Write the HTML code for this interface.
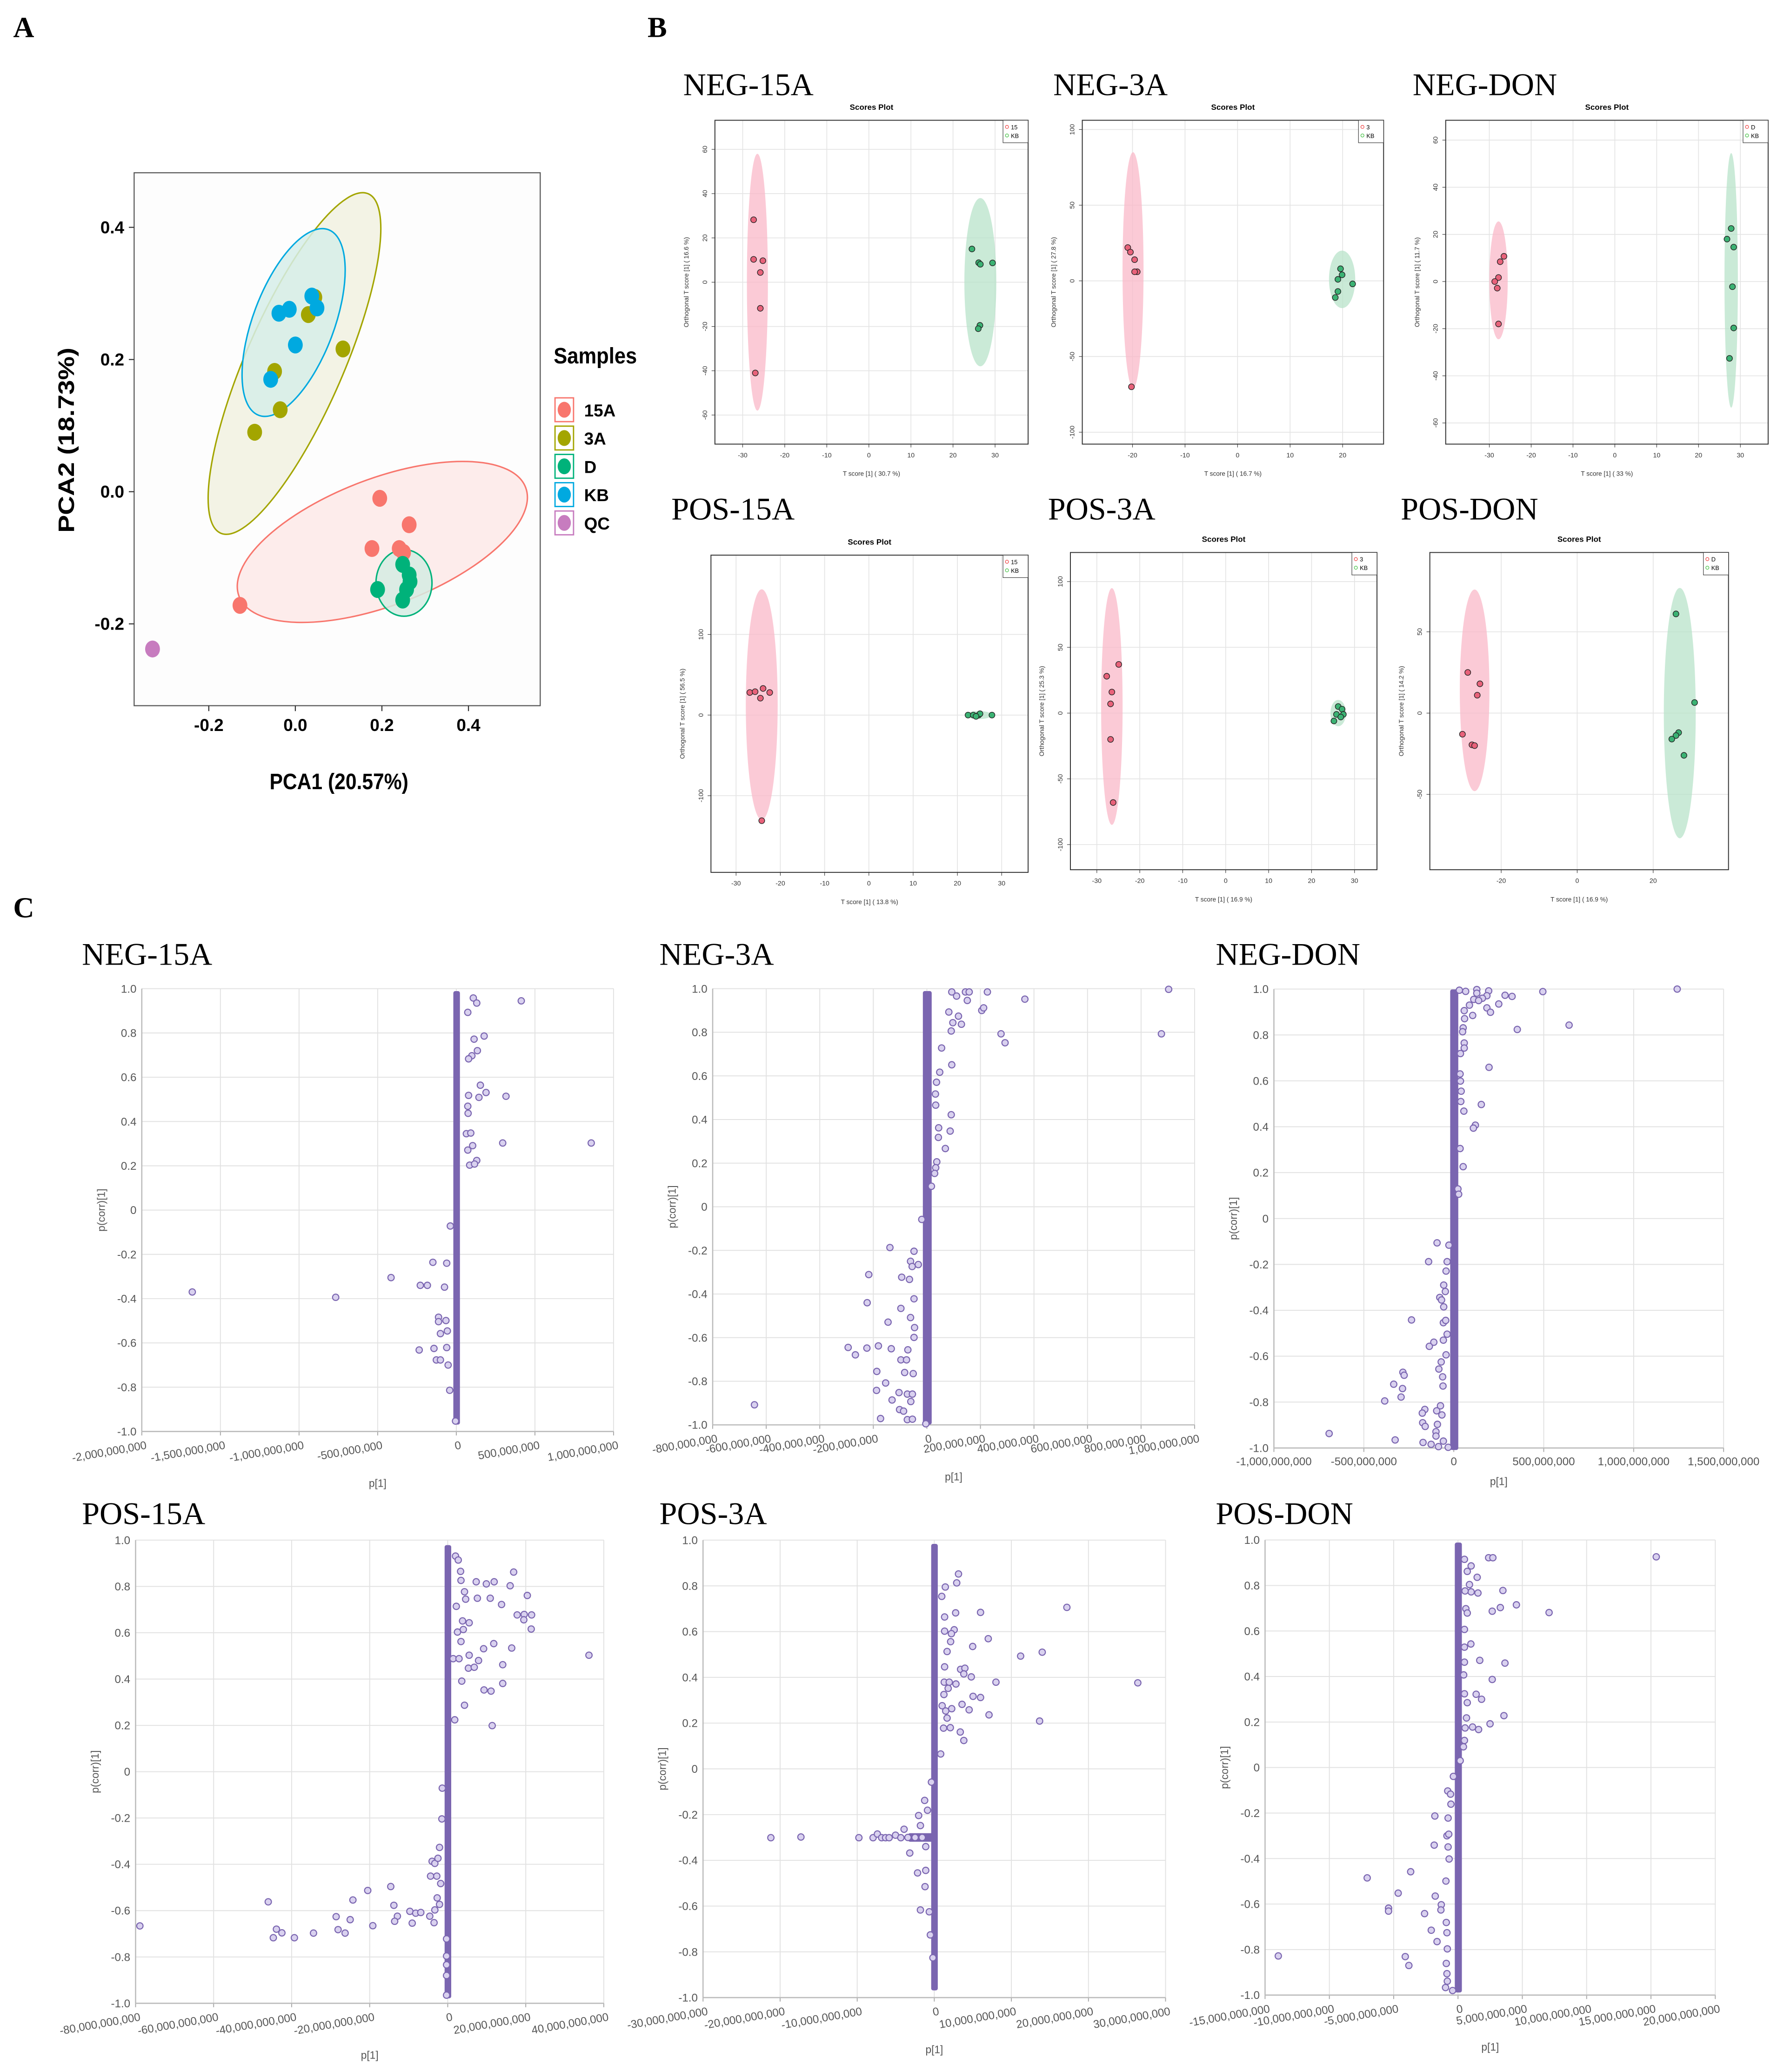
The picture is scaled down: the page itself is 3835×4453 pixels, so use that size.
<!DOCTYPE html>
<html><head><meta charset="utf-8">
<style>
html,body{margin:0;padding:0;background:#fff;}
svg{display:block;}
</style></head>
<body>
<svg id="fig" xmlns="http://www.w3.org/2000/svg" width="3835" height="4453" viewBox="0 0 1350 1567.6" preserveAspectRatio="none">
<rect x="0" y="0" width="1350" height="1567.6" fill="#fff"/>
<g font-family="Liberation Serif, serif" font-weight="bold" font-size="22" fill="#000">
<text x="10" y="28">A</text>
<text x="490" y="28">B</text>
<text x="10" y="694">C</text>
</g>
<g id="panelA"></g>
<g id="panelB"></g>
<g id="panelC"></g>
</svg>
<script>
const NS='http://www.w3.org/2000/svg';
function el(tag,attrs,parent,text){const e=document.createElementNS(NS,tag);for(const k in attrs)e.setAttribute(k,attrs[k]);if(text!==undefined)e.textContent=text;if(parent)parent.appendChild(e);return e;}
function lin(v1,p1,v2,p2){return v=>p1+(v-v1)*(p2-p1)/(v2-v1);}

/* ================= PANEL A DATA ================= */
const aGroups=['15A','3A','D','KB','QC'];
const aColors=['#f8766d','#a3a500','#00b27a','#00a9e0','#c77cbf'];
const a15A_x=[0.195,0.263,0.177,0.24,0.25,-0.128];
const a15A_y=[-0.01,-0.05,-0.086,-0.086,-0.092,-0.172];
const a3A_x=[0.11,-0.094,-0.035,-0.048,0.03,0.045];
const a3A_y=[0.216,0.09,0.124,0.182,0.268,0.294];
const aD_x=[0.19,0.248,0.263,0.265,0.257,0.248];
const aD_y=[-0.148,-0.11,-0.126,-0.136,-0.148,-0.164];
const aKB_x=[-0.038,-0.014,0.038,0.05,0,-0.057];
const aKB_y=[0.27,0.276,0.296,0.278,0.222,0.17];
const aQC_x=[-0.33];
const aQC_y=[-0.238];
const aXticks=[-0.2,0.0,0.2,0.4];
const aYticks=[-0.2,0.0,0.2,0.4];
const aEllCx=[0.201,-0.002,0.251,-0.004];
const aEllCy=[-0.076,0.194,-0.138,0.256];

(function(){
 const g=document.getElementById('panelA');
 const X=lin(0,223.5,0.2,289),Y=lin(0,372,0.2,272);
 el('rect',{x:101.5,y:130.7,width:307.3,height:403.2,fill:'#fdfdfd',stroke:'#555','stroke-width':0.8,},g);
 const ellSty=[{rx:116,ry:48,rot:-20.8,gi:0},{rx:140,ry:37,rot:-66.5,gi:1},{rx:21.2,ry:25.2,rot:0,gi:2},{rx:75,ry:30.7,rot:-69.4,gi:3}];
 const fills=['#fde9e8','#f1f1e0','#d5ece3','#d6ede9'];
 const order=[1,0,3,2];
 order.forEach(i=>{const s=ellSty[i];const cx=X(aEllCx[i]),cy=Y(aEllCy[i]);
  const e=el('ellipse',{cx:cx,cy:cy,rx:s.rx,ry:s.ry,transform:`rotate(${s.rot} ${cx} ${cy})`,fill:fills[i],'fill-opacity':0.85,stroke:aColors[s.gi],'stroke-width':1.1},g);
  
  });
 const sets=[[a15A_x,a15A_y],[a3A_x,a3A_y],[aD_x,aD_y],[aKB_x,aKB_y],[aQC_x,aQC_y]];
 const drawOrder=[1,0,2,3,4];
 drawOrder.forEach(gi=>{const [xs,ys]=sets[gi];xs.forEach((v,k)=>{
  const p=el('ellipse',{cx:X(v),cy:Y(ys[k]),rx:5.6,ry:6.4,fill:aColors[gi]},g);
  
  });});
 aXticks.forEach(t=>{el('line',{x1:X(t),x2:X(t),y1:533.9,y2:538,stroke:'#333','stroke-width':0.8},g);
  const tx=el('text',{x:X(t),y:553,'text-anchor':'middle','font-family':'Liberation Sans, sans-serif','font-weight':'bold','font-size':13,fill:'#000'},g,t.toFixed(1));
  });
 aYticks.forEach(t=>{el('line',{x1:97.5,x2:101.5,y1:Y(t),y2:Y(t),stroke:'#333','stroke-width':0.8},g);
  const tx=el('text',{x:94,y:Y(t)+4.5,'text-anchor':'end','font-family':'Liberation Sans, sans-serif','font-weight':'bold','font-size':13,fill:'#000'},g,t.toFixed(1));
  });
 el('text',{x:204,y:597,textLength:105,lengthAdjust:'spacingAndGlyphs','font-family':'Liberation Sans, sans-serif','font-weight':'bold','font-size':17,},g,'PCA1 (20.57%)');
 el('text',{x:56,y:333,'text-anchor':'middle',textLength:140,lengthAdjust:'spacingAndGlyphs','font-family':'Liberation Sans, sans-serif','font-weight':'bold','font-size':17,transform:'rotate(-90 56 333)',},g,'PCA2 (18.73%)');
 el('text',{x:419,y:275,textLength:63,lengthAdjust:'spacingAndGlyphs','font-family':'Liberation Sans, sans-serif','font-weight':'bold','font-size':17,},g,'Samples');
 aGroups.forEach((n,i)=>{const y0=301+i*21.4;
  const lg=el('g',{},g);
  el('rect',{x:420,y:y0,width:14,height:18,fill:'#fff',stroke:aColors[i],'stroke-width':1},lg);
  el('ellipse',{cx:427,cy:y0+9,rx:5,ry:6,fill:aColors[i]},lg);
  el('text',{x:442,y:y0+14,'font-family':'Liberation Sans, sans-serif','font-weight':'bold','font-size':13},lg,n);});
})();

/* ================= PANEL B DATA ================= */
const bTitles=['NEG-15A','NEG-3A','NEG-DON','POS-15A','POS-3A','POS-DON'];
const bLegendA=['15','3','D','15','3','D'];
const bXpct=['30.7','16.7','33','13.8','16.9','16.9'];
const bYpct=['16.6','27.8','11.7','56.5','25.3','14.2'];
const bRedX=[[-27.4,-27.4,-25.2,-25.8,-25.8,-27],[-20.9,-20.4,-19.6,-19.1,-19.6,-20.2],[-26.5,-27.4,-27.8,-28.7,-28.1,-27.8],[-26.9,-25.7,-23.9,-22.4,-24.5,-24.2],[-24.9,-27.7,-26.5,-26.8,-26.8,-26.2],[-28.8,-25.6,-26.3,-30.2,-27.7,-27]];
const bRedY=[[28.2,10.3,9.7,4.4,-11.8,-41],[22,19,14,6,6,-70],[10.7,8.4,1.7,0,-2.8,-18],[28,29,33,28,21,-131],[37,28,16,7,-20,-68],[25,18,11,-13,-19.5,-20]];
const bGrnX=[[24.5,26.1,26.5,29.4,26.4,26],[19.6,19.9,19.1,21.9,19.1,18.6],[27.8,26.8,28.4,28.1,28.4,27.4],[22.4,23.6,24.8,25.1,27.8,24.2],[26.2,27.1,25.8,27.4,25.2,26.8],[26,30.9,26.7,26,24.9,28.1]];
const bGrnY=[[15,8.8,8.1,8.7,-19.5,-21],[8,4,1,-2,-7,-11],[22.5,18,14.6,-2.2,-19.7,-32.6],[0,0,0,1.6,0,-1.6],[5,3,-1,-1,-6,-3],[61,6.5,-12,-13.8,-16,-26]];
const bRedEll=[[-26.5,0,2.5,58],[-19.9,7,2,78],[-27.8,0.5,2.2,25],[-24.2,13,3.6,143],[-26.5,5,2.5,90],[-27,14,3.9,62]];
const bGrnEll=[[26.5,0,3.8,38],[19.9,1,2.5,19],[27.8,0.5,1.6,54],[24.8,0,3,5],[26.2,0,1.8,10],[27,0,4.2,77]];
const bXticks=[[-30,-20,-10,0,10,20,30],[-20,-10,0,10,20],[-30,-20,-10,0,10,20,30],[-30,-20,-10,0,10,20,30],[-30,-20,-10,0,10,20,30],[-20,0,20]];
const bYticks=[[-60,-40,-20,0,20,40,60],[-100,-50,0,50,100],[-60,-40,-20,0,20,40,60],[-100,0,100],[-100,-50,0,50,100],[-50,0,50]];

(function(){
 const G=document.getElementById('panelB');
 const cfg=[
  {box:[541,91,778,336],xa:[-30,562,30,753],ya:[60,113,-60,314],tt:[517,72]},
  {box:[819,91,1047,336],xa:[-20,857,20,1016],ya:[100,98,-100,327],tt:[797,72]},
  {box:[1094,91,1338,336],xa:[-30,1127,30,1317],ya:[60,106,-60,320],tt:[1069,72]},
  {box:[538,420,778,660],xa:[-30,557,30,758],ya:[100,480,-100,602],tt:[508,393]},
  {box:[810,418,1042,658],xa:[-30,830,30,1025],ya:[100,440,-100,639],tt:[793,393]},
  {box:[1082,418,1308,658],xa:[-20,1136,20,1251],ya:[50,478,-50,601],tt:[1060,393]}];
 cfg.forEach((c,i)=>{
  const g=el('g',{},G);
  const X=lin(...c.xa),Y=lin(...c.ya);const [x0,y0,x1,y1]=c.box;
  el('text',{x:c.tt[0],y:c.tt[1],'font-family':'Liberation Serif, serif','font-size':24,},g,bTitles[i]);
  el('text',{x:(x0+x1)/2,y:y0-8,'text-anchor':'middle','font-family':'Liberation Sans, sans-serif','font-weight':'bold','font-size':6,},g,'Scores Plot');
  bXticks[i].forEach(t=>{el('line',{x1:X(t),x2:X(t),y1:y0,y2:y1,stroke:'#e4e4e4','stroke-width':0.6},g);
   el('line',{x1:X(t),x2:X(t),y1:y1,y2:y1+2.5,stroke:'#333','stroke-width':0.4},g);
   const tx=el('text',{x:X(t),y:y1+10,'text-anchor':'middle','font-family':'Liberation Sans, sans-serif','font-size':5,fill:'#333'},g,t);
   });
  bYticks[i].forEach(t=>{el('line',{x1:x0,x2:x1,y1:Y(t),y2:Y(t),stroke:'#e4e4e4','stroke-width':0.6},g);
   el('line',{x1:x0-2.5,x2:x0,y1:Y(t),y2:Y(t),stroke:'#333','stroke-width':0.4},g);
   const tx=el('text',{x:x0-6,y:Y(t),'text-anchor':'middle','font-family':'Liberation Sans, sans-serif','font-size':5,fill:'#333',transform:`rotate(-90 ${x0-6} ${Y(t)})`},g,t);
   });
  [[bRedEll[i],'#f9b8c8'],[bGrnEll[i],'#b8e3c9']].forEach(([e,f],k)=>{
   const cx=X(e[0]),cy=Y(e[1]);const rx=Math.abs(X(e[0]+e[2])-cx),ry=Math.abs(Y(e[1]+e[3])-cy);
   const n=el('ellipse',{cx:cx,cy:cy,rx:rx,ry:ry,fill:f,'fill-opacity':0.75},g);
   
   });
  [[bRedX[i],bRedY[i],'#e8627a'],[bGrnX[i],bGrnY[i],'#3bb273']].forEach(([xs,ys,col],k)=>{xs.forEach((v,j)=>{
   const p=el('circle',{cx:X(v),cy:Y(ys[j]),r:2.2,fill:col,stroke:'#222','stroke-width':0.5},g);
   
   });});
  el('rect',{x:x0,y:y0,width:x1-x0,height:y1-y0,fill:'none',stroke:'#333','stroke-width':0.7,},g);
  const lg=el('g',{},g);
  el('rect',{x:x1-19,y:y0,width:19,height:17,fill:'#fff',stroke:'#333','stroke-width':0.4},lg);
  el('circle',{cx:x1-16,cy:y0+5,r:1.2,fill:'none',stroke:'#e33','stroke-width':0.4},lg);
  el('circle',{cx:x1-16,cy:y0+11.5,r:1.2,fill:'none',stroke:'#3b3','stroke-width':0.4},lg);
  el('text',{x:x1-13,y:y0+6.8,'font-family':'Liberation Sans, sans-serif','font-size':4.5},lg,bLegendA[i]);
  el('text',{x:x1-13,y:y0+13.3,'font-family':'Liberation Sans, sans-serif','font-size':4.5},lg,'KB');
  el('text',{x:(x0+x1)/2,y:y1+24,'text-anchor':'middle','font-family':'Liberation Sans, sans-serif','font-size':4.8,fill:'#333',},g,`T score [1] ( ${bXpct[i]} %)`);
  el('text',{x:x0-20,y:(y0+y1)/2,'text-anchor':'middle','font-family':'Liberation Sans, sans-serif','font-size':4.8,fill:'#333',transform:`rotate(-90 ${x0-20} ${(y0+y1)/2})`,},g,`Orthogonal T score [1] ( ${bYpct[i]} %)`);
 });
})();

/* ================= PANEL C DATA ================= */
const cTitles=['NEG-15A','NEG-3A','NEG-DON','POS-15A','POS-3A','POS-DON'];
const cUnits=[1e6,1e6,1e6,1e9,1e9,1e9];
const cXticks=[[-2000,-1500,-1000,-500,0,500,1000],[-800,-600,-400,-200,0,200,400,600,800,1000],[-1000,-500,0,500,1000,1500],[-80,-60,-40,-20,0,20,40],[-30,-20,-10,0,10,20,30],[-15,-10,-5,0,5,10,15,20]];
const cYticks=[-1,-0.8,-0.6,-0.4,-0.2,0,0.2,0.4,0.6,0.8,1];
const cX0=[108,413,130,73,177,113,134,99,78,153,189,316,144,78,73,75,64,92,73,104,295,858,130,85,116,-38,-149,-61,-415,-229,-184,-75,-767,-1679,-113,-113,-66,-57,-101,-236,-142,-61,-127,-101,-52,-42,-5];
const cY0=[0.958,0.945,0.935,0.893,0.786,0.772,0.72,0.697,0.683,0.564,0.531,0.514,0.509,0.518,0.469,0.437,0.345,0.348,0.271,0.291,0.303,0.303,0.224,0.203,0.208,-0.072,-0.236,-0.24,-0.305,-0.34,-0.34,-0.348,-0.394,-0.37,-0.484,-0.504,-0.499,-0.546,-0.558,-0.632,-0.625,-0.621,-0.677,-0.677,-0.7,-0.814,-0.953];
const cX1=[93,111,144,158,226,151,366,903,205,212,82,118,97,129,91,277,292,876,55,93,48,36,32,33,91,44,87,43,69,37,33,29,17,-19,-138,-48,-61,-55,-32,-217,-94,-65,-48,-223,-97,-61,-145,-46,-48,-294,-267,-224,-181,-133,-71,-97,-76,-187,-83,-51,-154,-188,-104,-73,-54,-130,-102,-87,-60,-644,-173,-73,-54,-4];
const cY1=[0.985,0.966,0.985,0.985,0.985,0.946,0.952,0.997,0.9,0.912,0.893,0.874,0.844,0.837,0.806,0.793,0.752,0.793,0.728,0.651,0.617,0.571,0.517,0.466,0.422,0.362,0.347,0.318,0.267,0.206,0.179,0.153,0.094,-0.058,-0.187,-0.204,-0.25,-0.274,-0.265,-0.311,-0.323,-0.333,-0.422,-0.44,-0.466,-0.508,-0.529,-0.554,-0.599,-0.645,-0.679,-0.648,-0.638,-0.651,-0.656,-0.702,-0.702,-0.755,-0.76,-0.765,-0.808,-0.842,-0.852,-0.859,-0.859,-0.886,-0.93,-0.937,-0.893,-0.908,-0.971,-0.976,-0.974,-0.995];
const cX2=[31,66,128,194,495,1242,128,184,285,324,159,111,138,250,87,184,204,105,58,60,52,49,353,641,58,58,37,196,35,37,41,39,153,56,120,109,35,52,23,27,-93,-27,-140,-37,-43,-56,-47,-78,-68,-56,-235,-58,-45,-37,-111,-136,-58,-43,-70,-83,-62,-60,-283,-276,-334,-285,-293,-384,-161,-175,-95,-74,-66,-173,-159,-91,-99,-99,-693,-326,-171,-126,-85,-58,-31];
const cY2=[0.995,0.99,0.998,0.992,0.989,1.0,0.982,0.971,0.973,0.968,0.96,0.955,0.95,0.935,0.93,0.918,0.899,0.885,0.906,0.871,0.831,0.814,0.824,0.843,0.765,0.743,0.719,0.659,0.63,0.599,0.555,0.51,0.497,0.468,0.407,0.394,0.305,0.226,0.129,0.106,-0.106,-0.116,-0.188,-0.188,-0.229,-0.29,-0.318,-0.344,-0.355,-0.385,-0.442,-0.454,-0.444,-0.504,-0.539,-0.557,-0.53,-0.594,-0.625,-0.656,-0.69,-0.73,-0.67,-0.683,-0.722,-0.741,-0.778,-0.795,-0.832,-0.848,-0.838,-0.816,-0.856,-0.89,-0.906,-0.897,-0.929,-0.948,-0.937,-0.965,-0.976,-0.984,-0.994,-0.97,-0.997];
const cX3=[2.0,2.7,3.3,16.9,3.4,7.3,9.9,11.9,16.0,20.4,4.3,4.6,7.6,10.9,13.8,2.2,17.8,19.6,21.5,19.5,3.8,5.5,21.4,2.5,4.0,3.4,11.8,16.4,9.2,36.2,5.5,7.9,1.4,2.9,5.3,6.8,14.1,3.6,9.3,11.1,14.1,4.3,1.8,11.4,-1.4,-1.5,-2.1,-4.0,-3.3,-2.5,-4.4,-2.8,-1.8,-14.6,-20.5,-24.3,-46.0,-13.8,-2.7,-2.1,-9.7,-8.2,-6.9,-4.6,-3.3,-12.9,-13.6,-28.6,-25.0,-3.5,-9.1,-19.2,-78.9,-43.9,-42.5,-44.7,-39.3,-34.4,-28.1,-26.3,-0.3,-0.3,-0.3,-0.3,-0.3];
const cY3=[0.931,0.914,0.865,0.862,0.826,0.82,0.811,0.82,0.803,0.761,0.777,0.745,0.749,0.749,0.722,0.714,0.677,0.679,0.677,0.656,0.651,0.643,0.616,0.603,0.614,0.562,0.553,0.534,0.531,0.503,0.503,0.48,0.488,0.488,0.447,0.451,0.462,0.391,0.353,0.348,0.381,0.287,0.224,0.199,-0.071,-0.204,-0.327,-0.387,-0.396,-0.374,-0.451,-0.451,-0.483,-0.496,-0.513,-0.554,-0.562,-0.577,-0.545,-0.573,-0.603,-0.611,-0.608,-0.624,-0.597,-0.624,-0.646,-0.626,-0.639,-0.652,-0.654,-0.665,-0.666,-0.68,-0.696,-0.717,-0.717,-0.697,-0.682,-0.697,-0.722,-0.796,-0.834,-0.88,-0.965];
const cX4=[3.14,2.91,1.43,0.97,2.77,6.0,17.2,1.34,2.58,1.34,2.22,7.0,2.12,4.98,11.2,14.0,1.66,1.34,3.41,3.97,3.83,4.8,8.0,26.4,1.29,1.94,2.81,1.8,1.25,5.03,6.0,3.6,1.02,2.26,4.52,1.48,7.1,1.66,13.66,1.2,2.08,3.37,3.83,0.83,-0.37,-1.25,-2.03,-1.8,-3.92,-0.88,-1.11,-3.18,-21.2,-17.3,-9.78,-7.94,-7.38,-6.83,-6.32,-5.86,-5.03,-4.34,-3.42,-2.49,-1.57,-1.11,-2.17,-1.2,-1.8,-0.65,-0.51,-0.18];
const cY4=[0.852,0.813,0.795,0.754,0.682,0.684,0.706,0.664,0.608,0.602,0.591,0.569,0.556,0.535,0.493,0.51,0.513,0.446,0.435,0.44,0.415,0.402,0.379,0.376,0.379,0.379,0.371,0.352,0.325,0.317,0.312,0.282,0.276,0.263,0.258,0.253,0.236,0.222,0.209,0.178,0.18,0.161,0.124,0.065,-0.058,-0.138,-0.204,-0.248,-0.264,-0.181,-0.34,-0.368,-0.301,-0.298,-0.301,-0.301,-0.285,-0.301,-0.301,-0.301,-0.29,-0.301,-0.3,-0.3,-0.3,-0.444,-0.455,-0.515,-0.617,-0.625,-0.726,-0.826];
const cX5=[2.38,2.71,15.41,0.5,1.02,0.72,1.49,0.89,1.02,1.55,3.49,0.55,4.54,3.29,2.66,7.08,0.61,0.72,0.5,1.0,0.5,1.69,3.65,0.5,2.66,0.44,1.41,1.83,0.5,0.72,3.57,0.66,1.13,1.6,2.49,0.55,0.5,0.42,0.17,-0.36,-0.8,-0.58,-1.8,-0.55,-0.77,-0.86,-0.72,-1.85,-0.77,-0.69,-3.68,-7.06,-0.94,-4.65,-1.77,-1.3,-1.33,-5.4,-5.4,-2.6,-0.91,-2.08,-1.63,-0.86,-0.83,-0.91,-0.86,-4.1,-3.82,-13.97,-0.97,-0.83,-0.42];
const cY5=[0.922,0.922,0.926,0.915,0.886,0.862,0.836,0.804,0.772,0.767,0.778,0.776,0.715,0.703,0.687,0.681,0.698,0.679,0.607,0.543,0.529,0.471,0.459,0.463,0.387,0.407,0.322,0.3,0.324,0.285,0.228,0.218,0.178,0.167,0.192,0.174,0.119,0.091,0.03,-0.039,-0.103,-0.117,-0.213,-0.161,-0.222,-0.3,-0.293,-0.341,-0.349,-0.402,-0.458,-0.485,-0.499,-0.552,-0.565,-0.603,-0.626,-0.618,-0.631,-0.642,-0.681,-0.715,-0.765,-0.726,-0.797,-0.861,-0.906,-0.831,-0.87,-0.828,-0.967,-0.939,-0.98];
const cCore=[[[-18,22,-0.96,0.98]],[[-15,18,-0.99,0.98]],[[-20,25,-1.0,0.99]],[[-0.7,0.8,-0.97,0.97]],[[-0.3,0.35,-0.96,0.975],[-3.4,0,-0.31,-0.29]],[[-0.25,0.3,-0.98,0.98]]];
const cXs=[cX0,cX1,cX2,cX3,cX4,cX5],cYs=[cY0,cY1,cY2,cY3,cY4,cY5];

(function(){
 const G=document.getElementById('panelC');
 const cfg=[
  {xa:[-2000,107.3,1000,464.3],ya:[1,748,-1,1083],tt:[62,730],rot:true},
  {xa:[-800,539.3,1000,904],ya:[1,748,-1,1078],tt:[499,730],rot:true},
  {xa:[-1000,964,1500,1304.3],ya:[1,748.3,-1,1095.5],tt:[920,730],rot:false},
  {xa:[-80,102.6,40,456.9],ya:[1,1165.2,-1,1515.6],tt:[62,1153],rot:true},
  {xa:[-30,532,30,882],ya:[1,1165.2,-1,1511.3],tt:[499,1153],rot:true},
  {xa:[-15,957.3,20,1298],ya:[1,1165.1,-1,1509.4],tt:[920,1153],rot:true}];
 const col='#7a65b0';
 cfg.forEach((c,i)=>{
  const g=el('g',{},G);
  const X=lin(...c.xa),Y=lin(...c.ya);
  const xt=cXticks[i];const x0=X(xt[0]),x1=X(xt[xt.length-1]),y0=Y(1),y1=Y(-1);
  el('text',{x:c.tt[0],y:c.tt[1],'font-family':'Liberation Serif, serif','font-size':24,},g,cTitles[i]);
  cYticks.forEach(t=>{el('line',{x1:x0,x2:x1,y1:Y(t),y2:Y(t),stroke:'#e2e2e2','stroke-width':0.7},g);
   const lab=t===0?'0':t.toFixed(1);
   const tx=el('text',{x:x0-4,y:Y(t)+3,'text-anchor':'end','font-family':'Liberation Sans, sans-serif','font-size':8.5,fill:'#555'},g,lab);
   });
  xt.forEach(t=>{el('line',{x1:X(t),x2:X(t),y1:y0,y2:y1,stroke:'#e2e2e2','stroke-width':0.7},g);
   el('line',{x1:X(t),x2:X(t),y1:y1,y2:y1+3,stroke:'#aaa','stroke-width':0.7},g);
   const lab=(t*cUnits[i]).toLocaleString('en-US');
   let tx;
   if(c.rot){tx=el('text',{x:X(t)+4,y:y1+13,'text-anchor':'end','font-family':'Liberation Sans, sans-serif','font-size':8.5,fill:'#555',transform:`rotate(-10 ${X(t)+4} ${y1+13})`},g,lab);}
   else{tx=el('text',{x:X(t),y:y1+13,'text-anchor':'middle','font-family':'Liberation Sans, sans-serif','font-size':8.5,fill:'#555'},g,lab);}
   });
  el('line',{x1:x0,x2:x0,y1:y0,y2:y1,stroke:'#bbb','stroke-width':0.9},g);
  el('line',{x1:x0,x2:x1,y1:y1,y2:y1,stroke:'#bbb','stroke-width':0.9},g);
  cCore[i].forEach(r=>{const a=X(r[0]),b=X(r[1]);const w=Math.max(b-a,5);const cx=(a+b)/2;
   const rc=el('rect',{x:cx-w/2,y:Y(r[3])-1.5,width:w,height:Math.max(Y(r[2])-Y(r[3])+3,4),rx:1.5,fill:col},g);
   
   });
  cXs[i].forEach((v,k)=>{
   const p=el('circle',{cx:X(v),cy:Y(cYs[i][k]),r:2.4,fill:'#d9d1ef',stroke:col,'stroke-width':0.8},g);
   
   });
  el('text',{x:(x0+x1)/2,y:y1+(c.rot?42:28),'text-anchor':'middle','font-family':'Liberation Sans, sans-serif','font-size':8,fill:'#555',},g,'p[1]');
  const ty=(y0+y1)/2,txx=x0-28;
  el('text',{x:txx,y:ty,'text-anchor':'middle','font-family':'Liberation Sans, sans-serif','font-size':8,fill:'#555',transform:`rotate(-90 ${txx} ${ty})`,},g,'p(corr)[1]');
 });
})();
</script>
</body></html>
